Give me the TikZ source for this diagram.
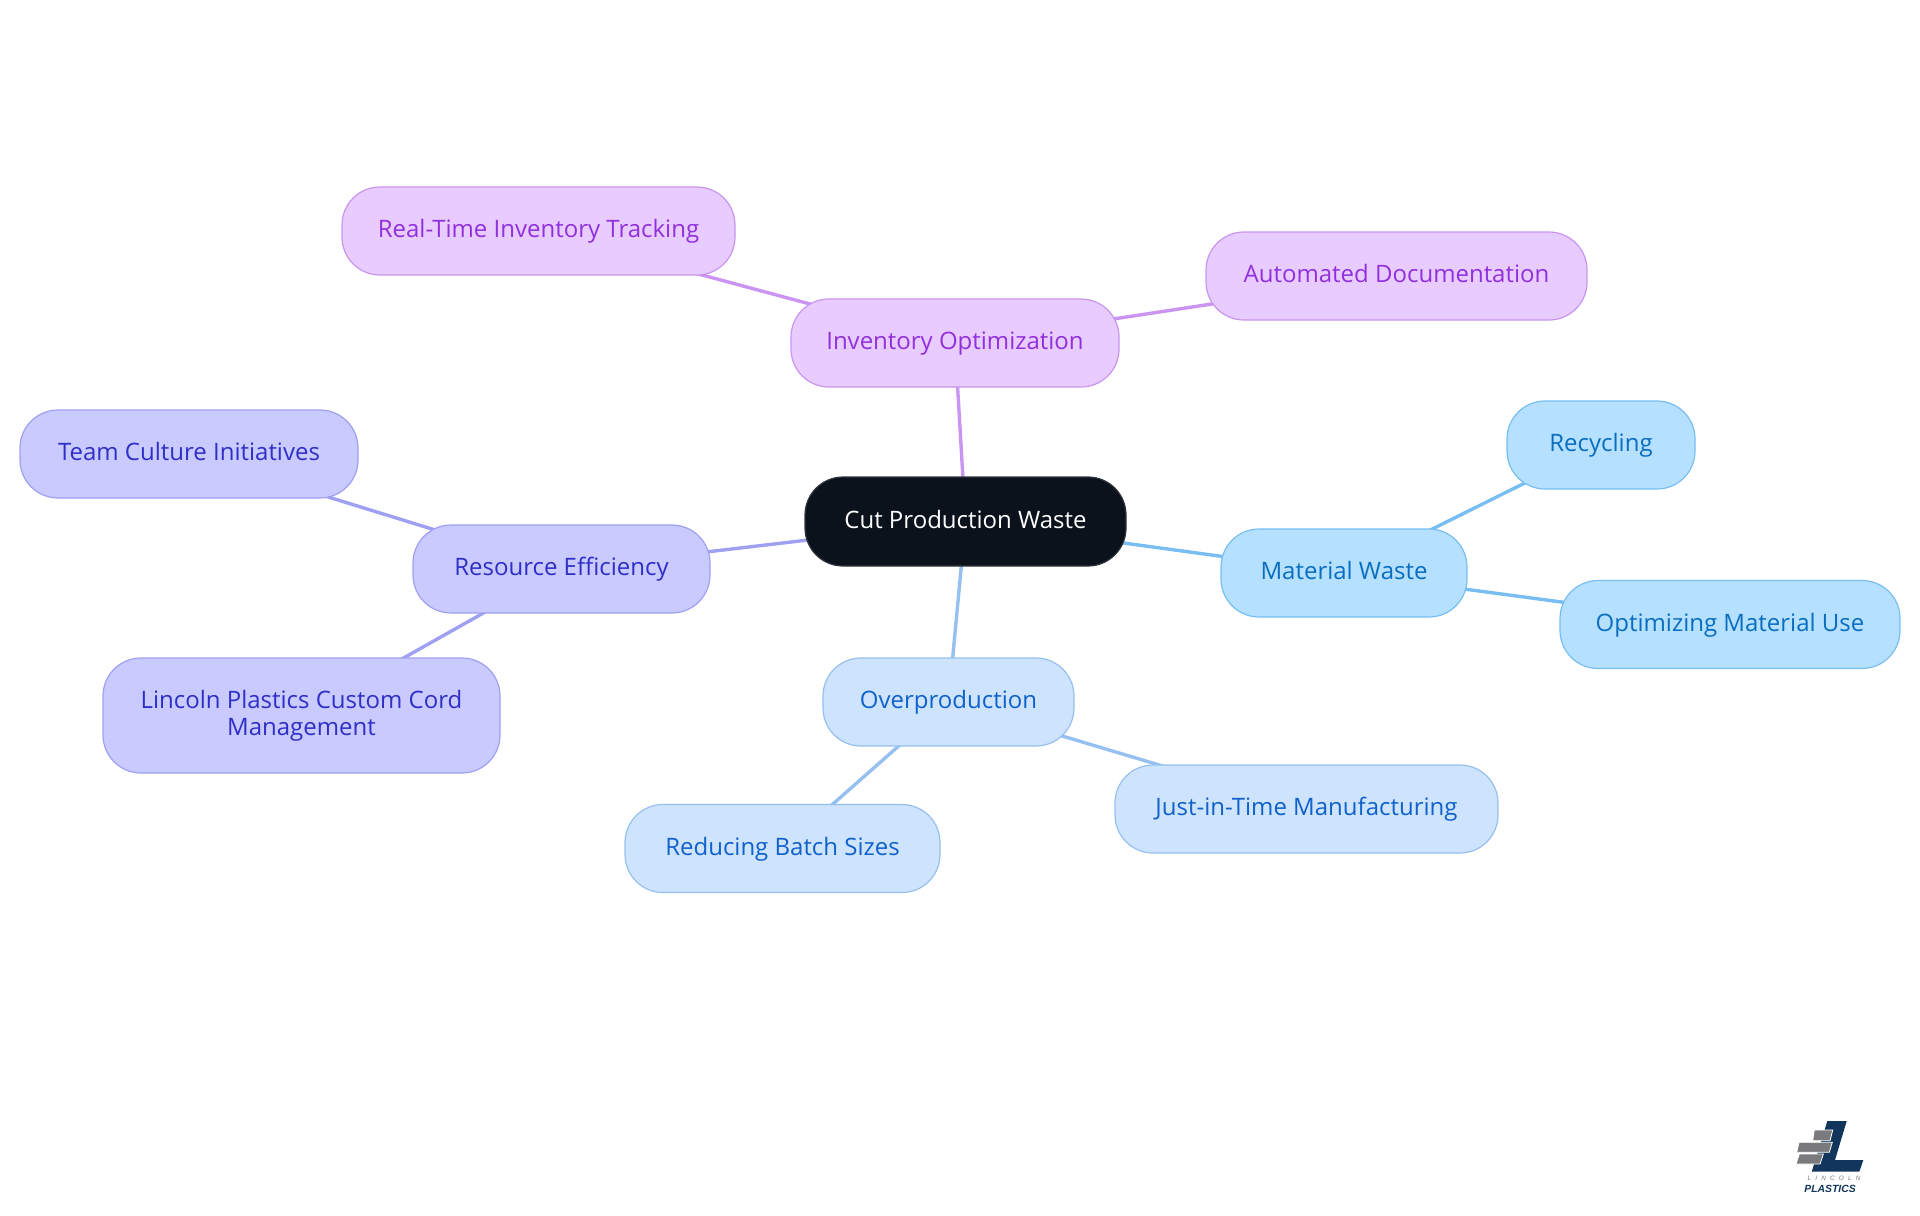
\documentclass[tikz,border=0pt]{standalone}
\usepackage{fontspec}
\setmainfont{Open Sans}
\newfontfamily\logofont{Liberation Sans}
\usetikzlibrary{backgrounds}
\definecolor{rootfill}{HTML}{0B121B}
\definecolor{invfill}{HTML}{E8CBFF}
\definecolor{invline}{HTML}{CA94F2}
\definecolor{invtext}{HTML}{9130DC}
\definecolor{resfill}{HTML}{C9CAFF}
\definecolor{resline}{HTML}{A0A0F2}
\definecolor{restext}{HTML}{2F2FC8}
\definecolor{matfill}{HTML}{B5E0FF}
\definecolor{matline}{HTML}{78BEF2}
\definecolor{mattext}{HTML}{0A6EC0}
\definecolor{ovefill}{HTML}{CEE3FD}
\definecolor{oveline}{HTML}{96C0F0}
\definecolor{ovetext}{HTML}{0F62CC}
\definecolor{logonavy}{HTML}{12355B}
\definecolor{logogray}{HTML}{7A7A7C}
\tikzset{
  box/.style={draw,line width=0.6pt,rounded corners=19pt,inner sep=0pt,align=center,text height=9pt,text depth=2.5pt,font=\fontsize{12}{13.3}\selectfont},
  rootbox/.style={box,draw=rootfill!85!white,fill=rootfill,text=white},
  invbox/.style={box,draw=invline,fill=invfill,text=invtext},
  resbox/.style={box,draw=resline,fill=resfill,text=restext},
  matbox/.style={box,draw=matline,fill=matfill,text=mattext},
  ovebox/.style={box,draw=oveline,fill=ovefill,text=ovetext},
  wire/.style={line width=1.7pt},
  logobar/.style={fill=logogray,draw=white,line width=0.4pt}
}
\begin{document}
\begin{tikzpicture}[x=0.5pt,y=-0.5pt]
\useasboundingbox (0,0) rectangle (1920,1215);
\node[rootbox,minimum width=160.5pt,minimum height=44.5pt] (root) at (965.5,521.5) {Cut Production Waste};
\node[invbox,minimum width=164pt,minimum height=44pt] (inv) at (955,343) {Inventory Optimization};
\node[invbox,minimum width=196.5pt,minimum height=44pt] (track) at (538.5,231) {Real-Time Inventory Tracking};
\node[invbox,minimum width=190.5pt,minimum height=44pt] (doc) at (1396.5,276) {Automated Documentation};
\node[resbox,minimum width=148.5pt,minimum height=44pt] (res) at (561.5,569) {Resource Efficiency};
\node[resbox,minimum width=169pt,minimum height=44pt] (team) at (189,454) {Team Culture Initiatives};
\node[resbox,text height=22.3pt,minimum width=198.5pt,minimum height=57.5pt] (cord) at (301.5,715.5) {Lincoln Plastics Custom Cord\\Management};
\node[matbox,minimum width=123pt,minimum height=44pt] (mat) at (1344,573) {Material Waste};
\node[matbox,minimum width=94pt,minimum height=44pt] (rec) at (1601,445) {Recycling};
\node[matbox,minimum width=170pt,minimum height=44pt] (use) at (1730,624.5) {Optimizing Material Use};
\node[ovebox,minimum width=125.5pt,minimum height=44pt] (ove) at (948.5,702) {Overproduction};
\node[ovebox,minimum width=157.5pt,minimum height=44pt] (batch) at (782.5,848.5) {Reducing Batch Sizes};
\node[ovebox,minimum width=191.5pt,minimum height=44pt] (jit) at (1306.5,809) {Just-in-Time Manufacturing};
\begin{pgfonlayer}{background}
\foreach \a/\b/\c in {root/inv/invline,inv/track/invline,inv/doc/invline,root/res/resline,res/team/resline,res/cord/resline,root/mat/matline,mat/rec/matline,mat/use/matline,root/ove/oveline,ove/batch/oveline,ove/jit/oveline} {
\draw[wire,\c] (\a.center)--(\b.center);}
\end{pgfonlayer}
% logo
\fill[logonavy] (1827.3,1121)--(1846.7,1121)--(1835,1160)--(1863.3,1160)--(1859.3,1171.7)--(1811.7,1171.7)--cycle;
\path[logobar] (1814.3,1130)--(1832.7,1130)--(1830,1140.7)--(1812.7,1140.7)--cycle;
\path[logobar] (1799,1142.3)--(1832.3,1142.3)--(1829.3,1152.3)--(1796.7,1152.3)--cycle;
\path[logobar] (1799.3,1154)--(1823.3,1154)--(1820,1164)--(1796,1164)--cycle;
\node[inner sep=0pt,text=logogray,font=\logofont\fontsize{3.2}{3.2}\selectfont\itshape\addfontfeature{LetterSpace=65}] (logotop) at (1834,1178) {LINCOLN};
\node[inner sep=0pt,text=logonavy,font=\logofont\fontsize{5.2}{5.2}\selectfont\bfseries\itshape] (logobot) at (1830,1188.5) {PLASTICS};
\end{tikzpicture}
\end{document}
